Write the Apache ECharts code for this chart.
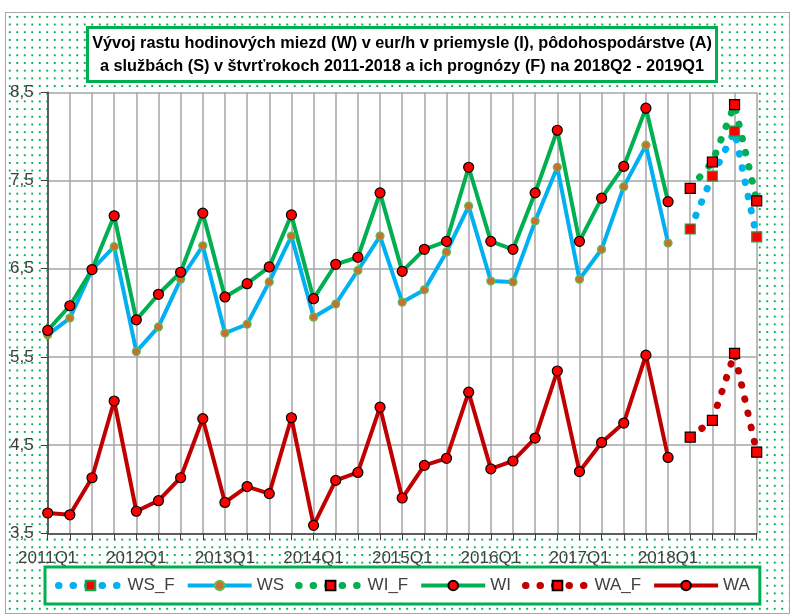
<!DOCTYPE html>
<html lang="sk">
<head>
<meta charset="UTF-8">
<title>Vývoj rastu hodinových miezd</title>
<script src="https://cdn.jsdelivr.net/npm/echarts@6/dist/echarts.min.js"></script>
<style>
  * { margin: 0; padding: 0; }
  body { width: 792px; height: 615px; background: #fff; position: relative; overflow: hidden; }
  #bg {
    position: absolute; left: 5px; top: 12px; width: 783px; height: 600px;
    border: 1px solid #a6a6a6;
    background-image: radial-gradient(circle, #00b050 0.9px, transparent 1.4px);
    background-size: 7.5px 7.7px;
  }
  #main { position: absolute; left: 0; top: 0; width: 792px; height: 615px; }
</style>
</head>
<body>
<div id="bg"></div>
<div id="main"></div>
<script>
  const quarters = [
    '2011Q1', '2011Q2', '2011Q3', '2011Q4', '2012Q1', '2012Q2', '2012Q3', '2012Q4',
    '2013Q1', '2013Q2', '2013Q3', '2013Q4', '2014Q1', '2014Q2', '2014Q3', '2014Q4',
    '2015Q1', '2015Q2', '2015Q3', '2015Q4', '2016Q1', '2016Q2', '2016Q3', '2016Q4',
    '2017Q1', '2017Q2', '2017Q3', '2017Q4', '2018Q1', '2018Q2', '2018Q3', '2018Q4',
    '2019Q1'
  ];

  // skutocnost 2011Q1 - 2018Q1
  const WS = [5.75, 5.94, 6.49, 6.75, 5.56, 5.84, 6.38, 6.76, 5.77, 5.87, 6.35, 6.87, 5.95, 6.10, 6.48, 6.87,
    6.12, 6.26, 6.69, 7.21, 6.36, 6.35, 7.04, 7.65, 6.38, 6.72, 7.43, 7.90, 6.79];
  const WI = [5.80, 6.08, 6.49, 7.10, 5.92, 6.21, 6.46, 7.13, 6.18, 6.33, 6.52, 7.11, 6.16, 6.55, 6.63, 7.36,
    6.47, 6.72, 6.81, 7.65, 6.81, 6.72, 7.36, 8.07, 6.81, 7.30, 7.66, 8.32, 7.26];
  const WA = [3.73, 3.71, 4.13, 5.00, 3.75, 3.87, 4.13, 4.80, 3.85, 4.03, 3.95, 4.81, 3.59, 4.10, 4.19, 4.93,
    3.90, 4.27, 4.35, 5.10, 4.23, 4.32, 4.58, 5.34, 4.20, 4.53, 4.75, 5.52, 4.36];

  // prognozy 2018Q2 - 2019Q1
  const WS_F = [6.95, 7.55, 8.06, 6.86];
  const WI_F = [7.41, 7.71, 8.36, 7.27];
  const WA_F = [4.59, 4.78, 5.54, 4.42];

  const yTicks = { min: 3.5, max: 8.5, step: 1 };

  const font = '"Liberation Sans", Arial, sans-serif';
  const BLUE = '#00b0f0', GREEN = '#00b050', RED = '#c00000';

  // forecasts sit after the actual values
  const pad = new Array(quarters.length - WS_F.length).fill('-');

  function actual(name, data, color, dot, dotBorder, size) {
    return {
      name, type: 'line', data,
      symbol: 'circle', symbolSize: size,
      lineStyle: { color, width: 4 },
      itemStyle: { color: dot, borderColor: dotBorder, borderWidth: 1.2 },
      z: 3
    };
  }
  function forecast(name, data, color, border) {
    return {
      name, type: 'line', data: pad.concat(data),
      symbol: 'rect', symbolSize: 10,
      lineStyle: { color, width: 7, type: [0.5, 14], cap: 'round' },
      itemStyle: { color: '#ff0000', borderColor: border, borderWidth: 1.2 },
      z: 3
    };
  }

  const chart = echarts.init(document.getElementById('main'));
  chart.setOption({
    animation: false,
    backgroundColor: 'transparent',
    title: {
      text: 'Vývoj rastu hodinových miezd (W) v eur/h v priemysle (I), pôdohospodárstve (A)\n' +
            'a službách (S) v štvrťrokoch 2011-2018 a ich prognózy (F) na 2018Q2 - 2019Q1',
      left: 397, top: 27,
      textAlign: 'center',
      padding: [5, 5, 4, 5],
      backgroundColor: '#fff',
      borderColor: GREEN, borderWidth: 3,
      textStyle: { fontFamily: font, fontWeight: 'bold', fontSize: 16.3, lineHeight: 23, color: '#000' }
    },
    legend: {
      left: 45, top: 567,
      padding: [10, 10],
      backgroundColor: '#fff',
      borderColor: GREEN, borderWidth: 3,
      itemWidth: 64, itemHeight: 12, itemGap: 11,
      lineStyle: { width: 'inherit' },
      textStyle: { fontFamily: font, fontSize: 17, color: '#404040' },
      data: ['WS_F', 'WS', 'WI_F', 'WI', 'WA_F', 'WA']
    },
    grid: {
      left: 47.7, right: 35.3, top: 92.3, bottom: 81.7,
      show: true, backgroundColor: '#fff', borderWidth: 0
    },
    xAxis: {
      type: 'category', data: quarters, boundaryGap: false,
      axisLine: { lineStyle: { color: '#404040', width: 1.5 } },
      axisTick: { show: true, interval: 0, length: 7, lineStyle: { color: '#404040' } },
      axisLabel: {
        interval: (i) => i % 4 === 0 && i < quarters.length - 1,
        fontFamily: font, fontSize: 17, color: '#404040', margin: 17
      },
      splitLine: { show: true, interval: 0, lineStyle: { color: '#a6a6a6', width: 1.5 } }
    },
    yAxis: {
      type: 'value', min: yTicks.min, max: yTicks.max, interval: yTicks.step,
      axisLine: { show: true, lineStyle: { color: '#404040', width: 1.5 } },
      axisTick: { show: true, length: 7, lineStyle: { color: '#404040' } },
      axisLabel: {
        fontFamily: font, fontSize: 17, color: '#404040', margin: 14,
        formatter: (v) => v.toFixed(1).replace('.', ',')
      },
      splitLine: { lineStyle: { color: '#a6a6a6', width: 1.5 } }
    },
    series: [
      forecast('WS_F', WS_F, BLUE, GREEN),
      actual('WS', WS, BLUE, '#c8702e', '#5cbf5c', 8),
      forecast('WI_F', WI_F, GREEN, '#000'),
      actual('WI', WI, GREEN, '#ff0000', '#000', 10),
      forecast('WA_F', WA_F, RED, '#000'),
      actual('WA', WA, RED, '#ff0000', '#000', 10)
    ]
  });
</script>
</body>
</html>
